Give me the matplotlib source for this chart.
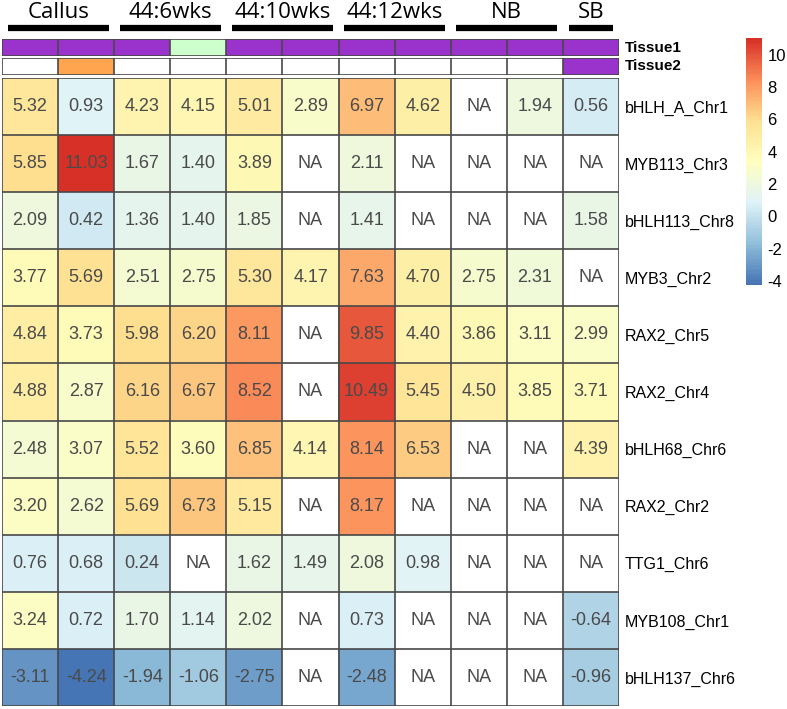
import numpy as np
import matplotlib
matplotlib.use("Agg")
import matplotlib.pyplot as plt
from matplotlib.colors import LinearSegmentedColormap, ListedColormap

NA = np.nan

genes = ["bHLH_A_Chr1", "MYB113_Chr3", "bHLH113_Chr8", "MYB3_Chr2", "RAX2_Chr5",
         "RAX2_Chr4", "bHLH68_Chr6", "RAX2_Chr2", "TTG1_Chr6", "MYB108_Chr1",
         "bHLH137_Chr6"]

groups = ["Callus", "44:6wks", "44:10wks", "44:12wks", "NB", "SB"]
group_sizes = [2, 2, 2, 2, 2, 1]

values = [
    [5.32, 0.93, 4.23, 4.15, 5.01, 2.89, 6.97, 4.62, NA, 1.94, 0.56],
    [5.85, 11.03, 1.67, 1.40, 3.89, NA, 2.11, NA, NA, NA, NA],
    [2.09, 0.42, 1.36, 1.40, 1.85, NA, 1.41, NA, NA, NA, 1.58],
    [3.77, 5.69, 2.51, 2.75, 5.30, 4.17, 7.63, 4.70, 2.75, 2.31, NA],
    [4.84, 3.73, 5.98, 6.20, 8.11, NA, 9.85, 4.40, 3.86, 3.11, 2.99],
    [4.88, 2.87, 6.16, 6.67, 8.52, NA, 10.49, 5.45, 4.50, 3.85, 3.71],
    [2.48, 3.07, 5.52, 3.60, 6.85, 4.14, 8.14, 6.53, NA, NA, 4.39],
    [3.20, 2.62, 5.69, 6.73, 5.15, NA, 8.17, NA, NA, NA, NA],
    [0.76, 0.68, 0.24, NA, 1.62, 1.49, 2.08, 0.98, NA, NA, NA],
    [3.24, 0.72, 1.70, 1.14, 2.02, NA, 0.73, NA, NA, NA, -0.64],
    [-3.11, -4.24, -1.94, -1.06, -2.75, NA, -2.48, NA, NA, NA, -0.96],
]

# annotation tracks: 0 = white, 1 = purple, 2 = green, 3 = orange
tissue1 = [1, 1, 1, 2, 1, 1, 1, 1, 1, 1, 1]
tissue2 = [0, 3, 0, 0, 0, 0, 0, 0, 0, 0, 1]
annot_colors = ["#ffffff", "#9933cc", "#ccffcc", "#ffa54f"]

W, H = 787, 709


def px_axes(fig, x0, y0, x1, y1):
    # pixel box (top-left origin) -> figure axes
    return fig.add_axes([x0 / W, 1 - y1 / H, (x1 - x0) / W, (y1 - y0) / H])


plt.rcParams["font.family"] = ["Liberation Sans", "DejaVu Sans"]
plt.rcParams["axes.unicode_minus"] = False

fig = plt.figure(figsize=(W / 100, H / 100), dpi=100)

data = np.array(values)
nrow, ncol = data.shape

cmap = LinearSegmentedColormap.from_list(
    "rdylbu", ["#4575B4", "#91BFDB", "#E0F3F8", "#FFFFBF", "#FEE090", "#FC8D59", "#D73027"], N=100)
cmap.set_bad("white")
vmin, vmax = np.nanmin(data), np.nanmax(data)

left, right = 2, 619
ax = px_axes(fig, left, 78, right, 706)
im = ax.imshow(np.ma.masked_invalid(data), cmap=cmap, vmin=vmin, vmax=vmax,
               aspect="auto", interpolation="nearest")
for i in range(nrow + 1):
    ax.axhline(i - 0.5, color="#484848", lw=1.2)
for j in range(ncol + 1):
    ax.axvline(j - 0.5, color="#484848", lw=1.2)
for i in range(nrow):
    for j in range(ncol):
        v = data[i, j]
        txt = "NA" if np.isnan(v) else f"{v:.2f}"
        ax.text(j, i, txt, ha="center", va="center", fontsize=13, color="#4a4a4a")
ax.set_xlim(-0.5, ncol - 0.5)
ax.set_ylim(nrow - 0.5, -0.5)
ax.set_xticks([])
ax.set_yticks(range(nrow))
ax.set_yticklabels(genes, fontsize=11.5)
ax.yaxis.tick_right()
ax.tick_params(axis="y", length=0, pad=4)
for s in ax.spines.values():
    s.set_visible(False)

# annotation tracks
acmap = ListedColormap(annot_colors)
for (y0, y1), track, name in [((39, 56), tissue1, "Tissue1"), ((58, 75), tissue2, "Tissue2")]:
    tax = px_axes(fig, left, y0, right, y1)
    tax.imshow([track], cmap=acmap, vmin=-0.5, vmax=3.5, aspect="auto", interpolation="nearest")
    for j in range(ncol + 1):
        tax.axvline(j - 0.5, color="#484848", lw=1.2)
    tax.axhline(-0.5, color="#484848", lw=1.2)
    tax.axhline(0.5, color="#484848", lw=1.2)
    tax.set_xlim(-0.5, ncol - 0.5)
    tax.set_ylim(0.5, -0.5)
    tax.set_xticks([])
    tax.set_yticks([])
    for s in tax.spines.values():
        s.set_visible(False)
    tax.text(1.01, 0.5, name, transform=tax.transAxes, ha="left", va="center",
             fontsize=11, fontweight="bold")

# group headers
gax = px_axes(fig, left, 0, right, 34)
gax.set_xlim(-0.5, ncol - 0.5)
gax.set_ylim(0, 1)
gax.axis("off")
start = 0
for g, n in zip(groups, group_sizes):
    gax.plot([start - 0.5 + 0.1, start + n - 0.5 - 0.1], [0.19, 0.19], color="black", lw=4.5,
             solid_capstyle="butt")
    gax.text(start + n / 2 - 0.5, 0.64, g, ha="center", va="center", fontsize=16,
             family=["Open Sans", "DejaVu Sans"])
    start += n

# colorbar
cax = px_axes(fig, 746, 38, 762, 285)
cb = fig.colorbar(im, cax=cax, ticks=range(-4, 11, 2))
cb.outline.set_visible(False)
cax.tick_params(length=0, labelsize=12, pad=4)

fig.savefig("out.png", dpi=100)
